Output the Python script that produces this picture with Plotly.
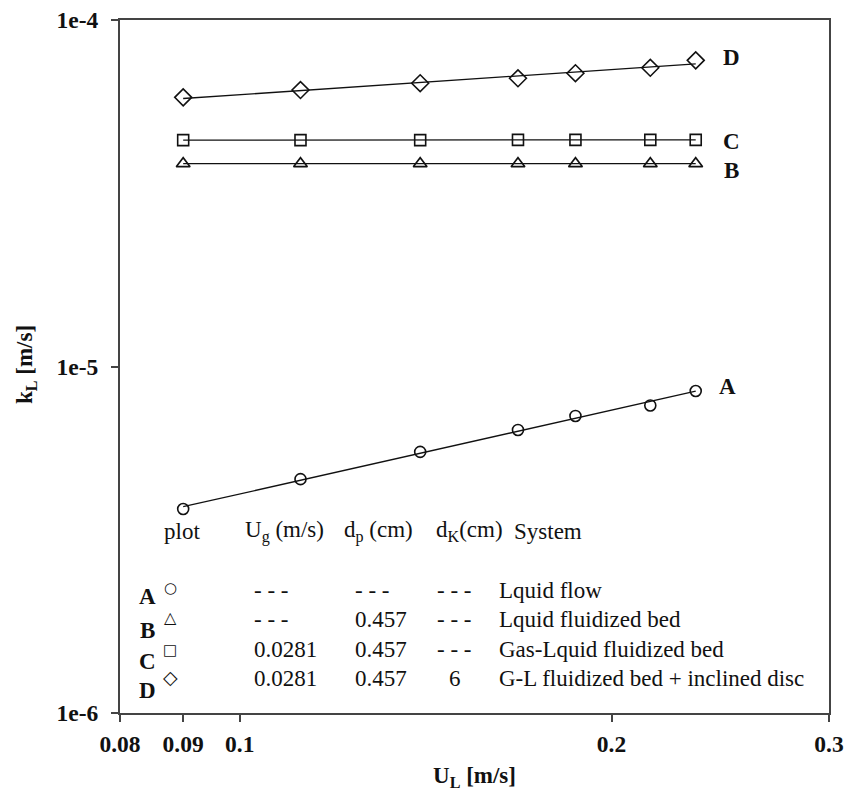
import numpy as np
import plotly.graph_objects as go

# ---- data ----
u_l = [0.09, 0.112, 0.140, 0.168, 0.187, 0.215, 0.234]
k_a = [3.88e-6, 4.73e-6, 5.67e-6, 6.56e-6, 7.20e-6, 7.72e-6, 8.50e-6]
k_b = [3.85e-5, 3.85e-5, 3.85e-5, 3.85e-5, 3.85e-5, 3.85e-5, 3.85e-5]
k_c = [4.50e-5, 4.50e-5, 4.50e-5, 4.51e-5, 4.51e-5, 4.51e-5, 4.51e-5]
k_d = [5.98e-5, 6.28e-5, 6.57e-5, 6.79e-5, 7.02e-5, 7.28e-5, 7.65e-5]

series_names = ["A", "B", "C", "D"]
series_vals = [k_a, k_b, k_c, k_d]
series_symbols = ["circle-open", "triangle-up-open", "square-open", "diamond-open"]
series_sizes = [11, 12, 11, 13]

x_tick_vals = [0.08, 0.09, 0.1, 0.2, 0.3]
x_tick_text = ["0.08", "0.09", "0.1", "0.2", "0.3"]
y_tick_vals = [1e-6, 1e-5, 1e-4]
y_tick_text = ["1e-6", "1e-5", "1e-4"]

table_header = ["plot", "U<sub>g</sub> (m/s)", "d<sub>p</sub> (cm)", "d<sub>K</sub>(cm)", "System"]
table_ug = ["- - -", "- - -", "0.0281", "0.0281"]
table_dp = ["- - -", "0.457", "0.457", "0.457"]
table_dk = ["- - -", "- - -", "- - -", "6"]
table_sys = ["Lquid flow", "Lquid fluidized bed", "Gas-Lquid fluidized bed",
             "G-L fluidized bed + inclined disc"]
table_glyphs = ["○", "△", "□", "◇"]
glyph_sizes = [15, 16, 15, 19]

# ---- layout geometry (pixels) ----
W, H = 856, 796
L, R, T, B = 120, 27, 20, 83
PW, PH = W - L - R, H - T - B


def px(x):
    return (x - L) / PW


def py(y):
    return (H - B - y) / PH


SERIF = "Liberation Serif, Times New Roman, Times, serif"
FS = 23
INK = "#111111"

fig = go.Figure()

for name, vals, sym, sz in zip(series_names, series_vals, series_symbols, series_sizes):
    lx = np.log10(u_l)
    ly = np.log10(vals)
    a, b = np.polyfit(lx, ly, 1)
    xe = [u_l[0], u_l[-1]]
    ye = [10 ** (a * np.log10(v) + b) for v in xe]
    fig.add_trace(go.Scatter(x=xe, y=ye, mode="lines",
                             line=dict(color=INK, width=1.3),
                             showlegend=False, hoverinfo="skip"))
    fig.add_trace(go.Scatter(x=u_l, y=vals, mode="markers", name=name,
                             marker=dict(symbol=sym, size=sz, color=INK,
                                         line=dict(width=1.6, color=INK)),
                             showlegend=False))


def txt(x0, y0, text, anchor="center", size=FS, family=SERIF, **kw):
    return dict(x=px(x0), y=py(y0), xref="paper", yref="paper", text=text,
                xanchor=anchor, yanchor="middle", showarrow=False,
                font=dict(family=family, size=size, color=INK), **kw)


ann = []
# series labels
label_pos = {"A": (727, 386), "B": (731, 170), "C": (731, 142), "D": (731, 58)}
for n in series_names:
    x0, y0 = label_pos[n]
    ann.append(txt(x0, y0, f"<b>{n}</b>"))

# table header
hdr_x = [(182, "center"), (243, "left"), (342, "left"), (434, "left"), (512, "left")]
for t, (x0, al) in zip(table_header, hdr_x):
    ann.append(txt(x0, 531, t, anchor=al))

row_y = [590, 619, 649, 678]
letter_y = [596, 630, 661, 690]
glyph_y = [588, 617, 650, 677]
for i in range(4):
    ann.append(txt(147, letter_y[i], f"<b>{series_names[i]}</b>"))
    ann.append(txt(170, glyph_y[i], table_glyphs[i], size=glyph_sizes[i], family="DejaVu Sans"))
    ann.append(txt(252, row_y[i], table_ug[i], anchor="left"))
    ann.append(txt(353, row_y[i], table_dp[i], anchor="left"))
    if table_dk[i] == "6":
        ann.append(txt(455, row_y[i], table_dk[i]))
    else:
        ann.append(txt(435, row_y[i], table_dk[i], anchor="left"))
    ann.append(txt(497, row_y[i], table_sys[i], anchor="left"))

# axis titles
ann.append(txt(474, 777, "<b>U<sub>L</sub> [m/s]</b>"))
ann.append(txt(26, 365, "<b>k<sub>L</sub> [m/s]</b>", textangle=-90))

axis_common = dict(showline=True, linecolor="#444444", linewidth=2, mirror=True,
                   ticks="outside", ticklen=7, tickwidth=1.5, tickcolor="#444444",
                   showgrid=False, zeroline=False, automargin=False,
                   tickfont=dict(family=SERIF, size=23.5, color=INK, weight="bold"))

fig.update_layout(
    width=W, height=H,
    margin=dict(l=L, r=R, t=T, b=B, autoexpand=False),
    paper_bgcolor="white", plot_bgcolor="white",
    xaxis=dict(type="log", range=[np.log10(0.08), np.log10(0.3)],
               tickvals=x_tick_vals, ticktext=x_tick_text, ticklabelstandoff=2,
               **axis_common),
    yaxis=dict(type="log", range=[-6, -4],
               tickvals=y_tick_vals, ticktext=y_tick_text, ticklabelstandoff=8,
               **axis_common),
    annotations=ann,
    showlegend=False,
)

fig.write_html("out.html")
